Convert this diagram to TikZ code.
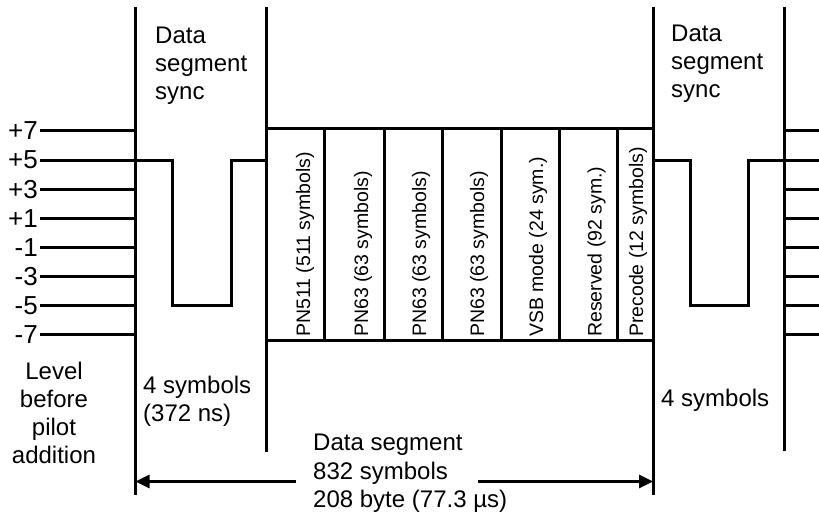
\documentclass[tikz,border=0pt]{standalone}
\usepackage{fontspec}
\setmainfont{Liberation Sans}
\usetikzlibrary{arrows.meta}
\begin{document}
\begin{tikzpicture}[x=1pt,y=-1pt,
  lbl/.style={font=\fontsize{24}{28}\selectfont, inner sep=0pt},
  levellbl/.style={font=\fontsize{26}{30}\selectfont, inner sep=0pt, anchor=east},
  segtext/.style={font=\fontsize{19.5}{23}\selectfont, inner sep=0pt, rotate=90, anchor=base west},
  wire/.style={line width=3pt, line join=miter},
  dimarrow/.style={line width=3pt, -{Triangle[length=14pt,width=13pt]}}]
\useasboundingbox (0,0) rectangle (819,516);
% vertical boundaries
\coordinate (v1t) at (135.5,7);   \coordinate (v1b) at (135.5,495);
\coordinate (v2t) at (266.5,7);   \coordinate (v2b) at (266.5,452);
\coordinate (v3t) at (653,7);     \coordinate (v3b) at (653,495);
\coordinate (v4t) at (784,7);     \coordinate (v4b) at (784,451);
\draw[wire] (v1t) -- (v1b);
\draw[wire] (v2t) -- (v2b);
\draw[wire] (v3t) -- (v3b);
\draw[wire] (v4t) -- (v4b);
% level lines and labels
\foreach \v [count=\i from 0] in {+7,+5,+3,+1,-1,-3,-5,-7} {
  \node[levellbl] (lv\i) at (38,{131+29.14*\i}) {\v};
  \draw[wire] (40,{131+29.14*\i}) -- (135.5,{131+29.14*\i});
  \draw[wire] (784,{131+29.14*\i}) -- (819,{131+29.14*\i});
}
% waveforms (segment sync)
\draw[wire] (40,160.1) -- (172,160.1) -- (172,305.8) -- (231,305.8) -- (231,160.1) -- (266.5,160.1);
\draw[wire] (653,160.1) -- (690,160.1) -- (690,305.8) -- (748,305.8) -- (748,160.1) -- (819,160.1);
% data segment box
\draw[wire] (266.5,129) rectangle (653,340);
\foreach \x in {324,384,442,501,559,617} {
  \draw[wire] (\x,129) -- (\x,340);
}
\node[segtext] (s1) at (310,337) {PN511 (511 symbols)};
\node[segtext] (s2) at (368,337) {PN63 (63 symbols)};
\node[segtext] (s3) at (426,337) {PN63 (63 symbols)};
\node[segtext] (s4) at (484,337) {PN63 (63 symbols)};
\node[segtext] (s5) at (543,337) {VSB mode (24 sym.)};
\node[segtext] (s6) at (601.5,337) {Reserved (92 sym.)};
\node[segtext] (s7) at (643,337) {Precode (12 symbols)};
% left sync label
\node[lbl,anchor=base west] (ls1) at (155,44) {Data};
\node[lbl,anchor=base west] (ls2) at (155,72) {segment};
\node[lbl,anchor=base west] (ls3) at (155,100) {sync};
% right sync label
\node[lbl,anchor=base west] (rs1) at (671,42) {Data};
\node[lbl,anchor=base west] (rs2) at (671,70) {segment};
\node[lbl,anchor=base west] (rs3) at (671,98) {sync};
% level caption
\node[lbl,anchor=base] (lc1) at (54,379) {Level};
\node[lbl,anchor=base] (lc2) at (54,407) {before};
\node[lbl,anchor=base] (lc3) at (54,435) {pilot};
\node[lbl,anchor=base] (lc4) at (54,463) {addition};
% 4 symbols labels
\node[lbl,anchor=base west] (fs1) at (143,393) {4 symbols};
\node[lbl,anchor=base west] (fs2) at (143,421.5) {(372 ns)};
\node[lbl,anchor=base west] (fs3) at (661,406.5) {4 symbols};
% data segment dimension
\node[lbl,anchor=base west] (ds1) at (313,450.5) {Data segment};
\node[lbl,anchor=base west] (ds2) at (313,479) {832 symbols};
\node[lbl,anchor=base west] (ds3) at (313,507.5) {208 byte (77.3 µs)};
\coordinate (al) at (296,481.5);
\coordinate (ar) at (478,481.5);
\draw[dimarrow] (al) -- (v1b |- al);
\draw[dimarrow] (ar) -- (v3b |- ar);
\end{tikzpicture}
\end{document}
